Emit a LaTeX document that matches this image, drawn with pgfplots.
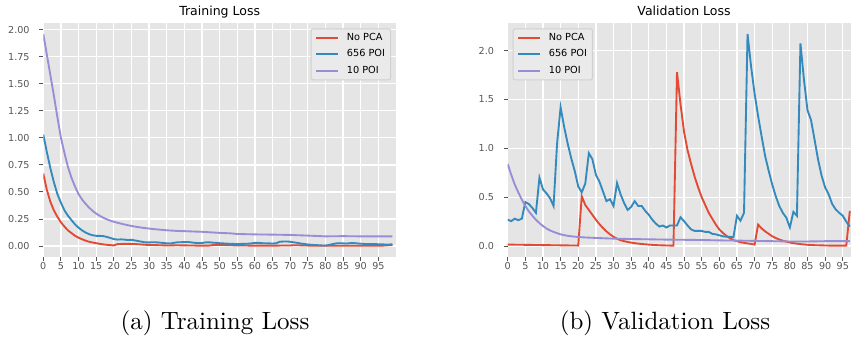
\documentclass[border=0pt]{standalone}
\usepackage{fontspec}
\usepackage{pgfplots}
\pgfplotsset{compat=1.18}
\newfontfamily\dejavu{DejaVu Sans}
\definecolor{ggred}{HTML}{E24A33}
\definecolor{ggblue}{HTML}{348ABD}
\definecolor{ggpurple}{HTML}{988ED5}
\definecolor{ggbg}{HTML}{E5E5E5}
\definecolor{tickgray}{HTML}{555555}
\definecolor{legbg}{HTML}{EAEAEA}
\definecolor{legedge}{HTML}{D0D0D0}
\pgfplotsset{
  ggstyle/.style={
    scale only axis, width=141.08pt, height=93.36pt,
    anchor=south west,
    xmin=0, xmax=100,
    xtick={0,5,...,95},
    axis background/.style={fill=ggbg},
    axis line style={draw=none},
    grid=major, major grid style={white, line width=0.5pt},
    tick align=outside, xtick pos=left, ytick pos=left,
    major tick length=1.6pt,
    tick style={tickgray, line width=0.4pt},
    ticklabel style={font=\dejavu\fontsize{3.84}{4.6}\selectfont, text=tickgray},
    /pgf/number format/assume math mode=true,
    xticklabel style={anchor=base, inner sep=0pt, yshift=-3.6pt},
    yticklabel style={anchor=east, inner sep=0pt, xshift=-3.7pt},
    every axis title/.style={font=\dejavu\fontsize{5}{6}\selectfont, at={(0.5,1)}, anchor=base, yshift=3.04pt, inner sep=0pt},
    every axis plot/.append style={line width=0.75pt, no marks},
    legend image code/.code={\draw[##1] (0pt,0pt) -- (8.9pt,0pt); \path (11.3pt,0pt);},
    legend cell align=left,
    legend style={fill=legbg, draw=legedge, rounded corners=0.8pt,
      font=\dejavu\fontsize{3.9}{4.6}\selectfont,
      inner xsep=1.6pt, inner ysep=1.3pt, row sep=2.0pt,
      nodes={inner xsep=0.6pt, inner ysep=0.5pt, text height=2.8pt, text depth=0.8pt}},
  }
}
\begin{document}
\begin{tikzpicture}
\path[use as bounding box] (0,0) rectangle (340.4pt,134.8pt);
\clip (0,0) rectangle (340.4pt,134.8pt);

\begin{axis}[ggstyle, at={(17.32pt,32.12pt)},
  title={Training Loss},
  ymin=-0.098, ymax=2.058,
  ytick={0,0.25,...,2.0},
  yticklabel style={/pgf/number format/.cd, fixed, fixed zerofill, precision=2},
  legend style={at={(1,1)}, anchor=north east, xshift=-2pt, yshift=-2pt},
]
\addplot[color=ggred] coordinates {
(0,0.67)(1,0.52)(2,0.41)(3,0.33)(4,0.27)(5,0.22)(6,0.18)(7,0.145)(8,0.12)(9,0.095)
(10,0.078)(11,0.063)(12,0.05)(13,0.04)(14,0.033)(15,0.027)(16,0.021)(17,0.016)(18,0.012)(19,0.009)
(20,0.006)(21,0.018)(22,0.02)(23,0.021)(24,0.02)(25,0.021)(26,0.019)(27,0.017)(28,0.014)(29,0.012)
(30,0.011)(31,0.01)(32,0.009)(33,0.008)(34,0.007)(35,0.006)(36,0.006)(37,0.007)(38,0.008)(39,0.007)
(40,0.007)(41,0.006)(42,0.005)(43,0.005)(44,0.004)(45,0.004)(46,0.004)(47,0.005)(48,0.009)(49,0.011)
(50,0.011)(51,0.01)(52,0.009)(53,0.008)(54,0.007)(55,0.006)(56,0.006)(57,0.005)(58,0.005)(59,0.004)
(60,0.004)(61,0.004)(62,0.004)(63,0.004)(64,0.004)(65,0.004)(66,0.004)(67,0.005)(68,0.005)(69,0.005)
(70,0.006)(71,0.008)(72,0.008)(73,0.007)(74,0.006)(75,0.005)(76,0.004)(77,0.004)(78,0.003)(79,0.003)
(80,0.003)(81,0.003)(82,0.003)(83,0.003)(84,0.003)(85,0.003)(86,0.003)(87,0.003)(88,0.003)(89,0.003)
(90,0.003)(91,0.003)(92,0.003)(93,0.003)(94,0.004)(95,0.004)(96,0.004)(97,0.006)(98,0.008)(99,0.01)};
\addlegendentry{No PCA}
\addplot[color=ggblue] coordinates {
(0,1.03)(1,0.87)(2,0.72)(3,0.59)(4,0.48)(5,0.40)(6,0.33)(7,0.28)(8,0.24)(9,0.20)
(10,0.17)(11,0.145)(12,0.125)(13,0.11)(14,0.10)(15,0.095)(16,0.095)(17,0.092)(18,0.085)(19,0.075)
(20,0.065)(21,0.06)(22,0.062)(23,0.06)(24,0.056)(25,0.058)(26,0.052)(27,0.046)(28,0.04)(29,0.034)
(30,0.034)(31,0.036)(32,0.035)(33,0.032)(34,0.029)(35,0.026)(36,0.024)(37,0.03)(38,0.035)(39,0.036)
(40,0.037)(41,0.038)(42,0.034)(43,0.03)(44,0.028)(45,0.029)(46,0.034)(47,0.035)(48,0.032)(49,0.03)
(50,0.027)(51,0.025)(52,0.023)(53,0.021)(54,0.02)(55,0.019)(56,0.02)(57,0.021)(58,0.022)(59,0.025)
(60,0.03)(61,0.03)(62,0.027)(63,0.026)(64,0.025)(65,0.024)(66,0.026)(67,0.04)(68,0.042)(69,0.043)
(70,0.04)(71,0.035)(72,0.03)(73,0.024)(74,0.019)(75,0.015)(76,0.012)(77,0.01)(78,0.008)(79,0.006)
(80,0.005)(81,0.01)(82,0.018)(83,0.025)(84,0.027)(85,0.025)(86,0.024)(87,0.027)(88,0.028)(89,0.025)
(90,0.022)(91,0.02)(92,0.019)(93,0.018)(94,0.019)(95,0.017)(96,0.016)(97,0.015)(98,0.015)(99,0.016)};
\addlegendentry{656 POI}
\addplot[color=ggpurple] coordinates {
(0,1.96)(1,1.77)(2,1.58)(3,1.39)(4,1.19)(5,1.0)(6,0.86)(7,0.73)(8,0.63)(9,0.55)
(10,0.48)(11,0.43)(12,0.39)(13,0.355)(14,0.325)(15,0.30)(16,0.28)(17,0.262)(18,0.248)(19,0.235)
(20,0.225)(21,0.216)(22,0.208)(23,0.2)(24,0.193)(25,0.186)(26,0.18)(27,0.175)(28,0.17)(29,0.166)
(30,0.162)(31,0.158)(32,0.155)(33,0.152)(34,0.149)(35,0.146)(36,0.144)(37,0.142)(38,0.14)(39,0.139)
(40,0.138)(45,0.132)(50,0.122)(53,0.118)(55,0.112)(60,0.108)(65,0.106)(70,0.103)(75,0.097)(80,0.09)
(85,0.092)(90,0.09)(95,0.09)(99,0.09)};
\addlegendentry{10 POI}
\end{axis}

\begin{axis}[ggstyle, at={(203.08pt,32.12pt)},
  title={Validation Loss},
  ymin=-0.109, ymax=2.28,
  ytick={0,0.5,...,2.0},
  yticklabel style={/pgf/number format/.cd, fixed, fixed zerofill, precision=1},
  legend style={at={(0,1)}, anchor=north west, xshift=2pt, yshift=-2pt},
]
\addplot[color=ggred] coordinates {
(0,0.015)(2,0.014)(4,0.013)(6,0.012)(8,0.011)(10,0.01)(12,0.009)(14,0.008)(16,0.007)(18,0.006)(20,0.005)
(21,0.51)(22,0.42)(23,0.37)(24,0.32)(25,0.27)(26,0.225)(27,0.185)(28,0.15)(29,0.12)
(30,0.095)(31,0.075)(32,0.06)(33,0.05)(34,0.042)(35,0.035)(36,0.03)(37,0.025)(38,0.021)(39,0.018)
(40,0.015)(41,0.012)(42,0.01)(43,0.008)(44,0.007)(45,0.006)(46,0.005)(47,0.005)
(48,1.78)(49,1.45)(50,1.17)(51,0.98)(52,0.84)(53,0.71)(54,0.60)(55,0.50)(56,0.42)(57,0.34)(58,0.28)(59,0.22)
(60,0.17)(61,0.135)(62,0.105)(63,0.08)(64,0.06)(65,0.05)(66,0.04)(67,0.033)(68,0.027)(69,0.022)(70,0.015)
(71,0.22)(72,0.18)(73,0.15)(74,0.125)(75,0.10)(76,0.082)(77,0.067)(78,0.055)(79,0.045)
(80,0.036)(81,0.03)(82,0.025)(83,0.02)(84,0.016)(85,0.013)(86,0.011)(87,0.009)(88,0.008)(89,0.007)
(90,0.006)(91,0.005)(92,0.005)(93,0.005)(94,0.005)(95,0.005)(96,0.005)(97,0.36)};
\addlegendentry{No PCA}
\addplot[color=ggblue] coordinates {
(0,0.27)(1,0.255)(2,0.28)(3,0.265)(4,0.28)(5,0.45)(6,0.43)(7,0.39)(8,0.34)(9,0.70)
(10,0.58)(11,0.54)(12,0.49)(13,0.41)(14,1.05)(15,1.42)(16,1.22)(17,1.05)(18,0.90)(19,0.77)
(20,0.61)(21,0.55)(22,0.64)(23,0.95)(24,0.89)(25,0.73)(26,0.66)(27,0.56)(28,0.46)(29,0.48)
(30,0.41)(31,0.645)(32,0.53)(33,0.44)(34,0.37)(35,0.40)(36,0.46)(37,0.41)(38,0.41)(39,0.36)
(40,0.32)(41,0.27)(42,0.23)(43,0.20)(44,0.21)(45,0.19)(46,0.21)(47,0.21)(48,0.21)(49,0.295)
(50,0.255)(51,0.21)(52,0.17)(53,0.155)(54,0.155)(55,0.155)(56,0.145)(57,0.145)(58,0.125)(59,0.12)
(60,0.11)(61,0.10)(62,0.095)(63,0.095)(64,0.09)(65,0.31)(66,0.26)(67,0.34)(68,2.17)(69,1.84)
(70,1.56)(71,1.33)(72,1.12)(73,0.92)(74,0.77)(75,0.63)(76,0.51)(77,0.41)(78,0.34)(79,0.29)
(80,0.19)(81,0.35)(82,0.31)(83,2.075)(84,1.70)(85,1.39)(86,1.29)(87,1.09)(88,0.885)(89,0.72)
(90,0.60)(91,0.53)(92,0.43)(93,0.375)(94,0.34)(95,0.31)(96,0.25)(97,0.20)};
\addlegendentry{656 POI}
\addplot[color=ggpurple] coordinates {
(0,0.84)(1,0.73)(2,0.63)(3,0.55)(4,0.475)(5,0.41)(6,0.355)(7,0.31)(8,0.27)(9,0.235)
(10,0.205)(11,0.18)(12,0.16)(13,0.145)(14,0.132)(15,0.12)(16,0.112)(17,0.105)(18,0.1)(19,0.096)
(20,0.093)(22,0.088)(25,0.083)(30,0.076)(35,0.072)(40,0.069)(45,0.066)(50,0.064)(55,0.062)(60,0.058)
(65,0.056)(70,0.053)(75,0.05)(80,0.047)(85,0.047)(90,0.05)(97,0.05)};
\addlegendentry{10 POI}
\end{axis}

\node[font=\fontsize{10}{12}\selectfont, anchor=base] at (86pt,2.9pt) {(a) Training Loss};
\node[font=\fontsize{10}{12}\selectfont, anchor=base] at (266pt,2.9pt) {(b) Validation Loss};
\end{tikzpicture}
\end{document}
